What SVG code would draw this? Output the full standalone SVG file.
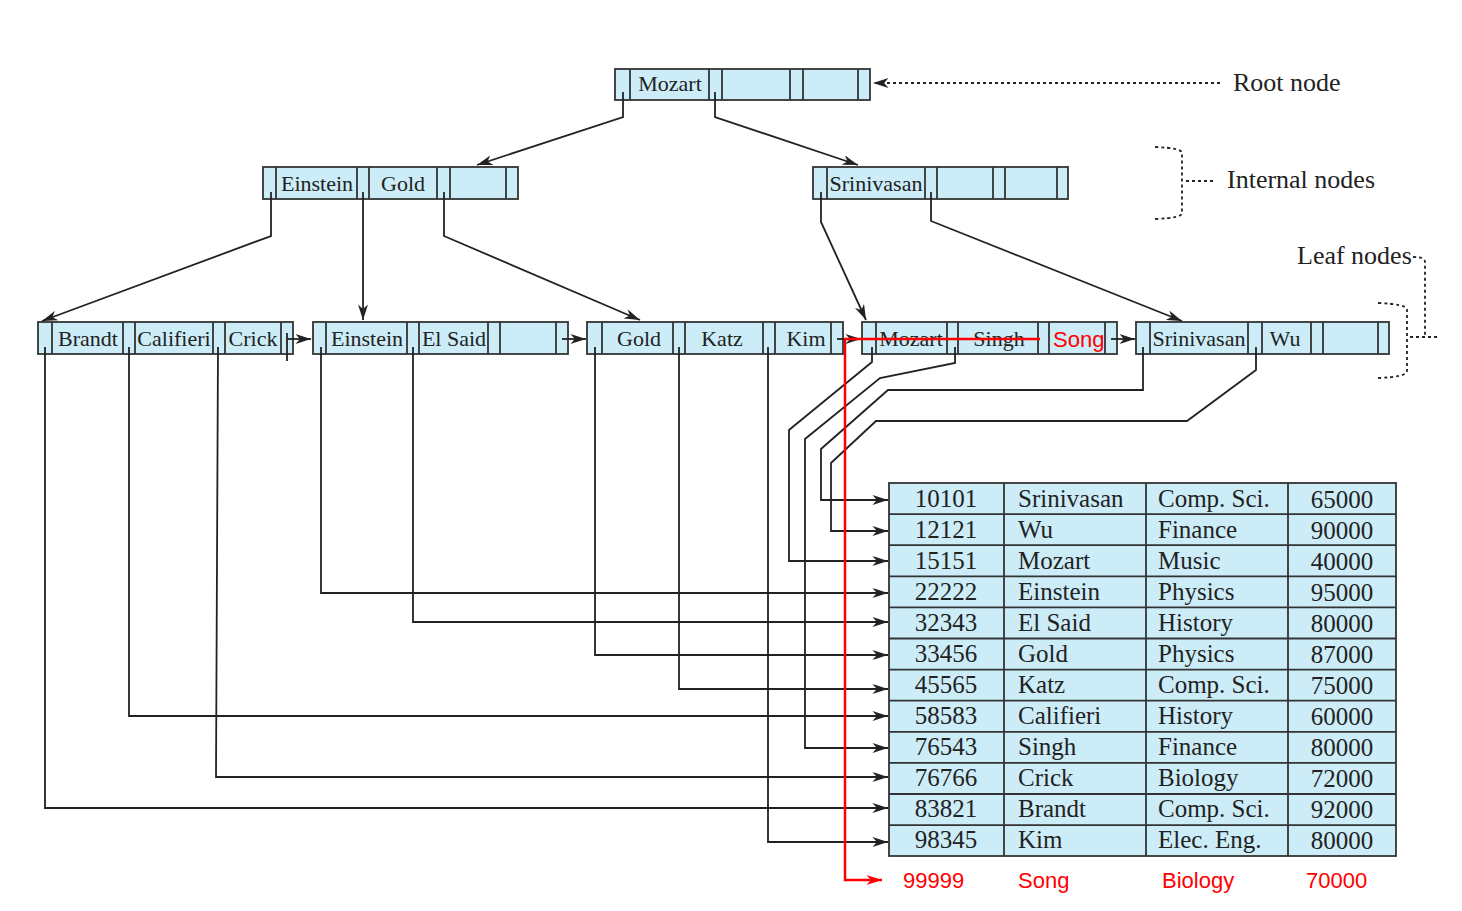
<svg xmlns="http://www.w3.org/2000/svg" width="1462" height="911" viewBox="0 0 1462 911">
<style>
.cell{fill:#ccedf8;stroke:#333;stroke-width:1.8}
.div{stroke:#333;stroke-width:1.8}
.k{font-family:"Liberation Serif",serif;font-size:22px;fill:#222;text-anchor:middle}
.t{font-family:"Liberation Serif",serif;font-size:25px;fill:#222}
.tc{text-anchor:middle}
.lbl{font-family:"Liberation Serif",serif;font-size:26px;fill:#222}
.red{font-family:"Liberation Sans","Noto Sans",sans-serif;font-size:22px;fill:#ff0000}
.ln{fill:none;stroke:#222;stroke-width:1.8}
.dot{fill:none;stroke:#222;stroke-width:1.8;stroke-dasharray:3,3}
.rl{fill:none;stroke:#ff0000;stroke-width:2.5}
</style>
<defs>
<marker id="ah" viewBox="0 0 14 9" refX="14" refY="4.5" markerWidth="16" markerHeight="10" markerUnits="userSpaceOnUse" orient="auto">
<path d="M0,0 L14,4.5 L0,9 L4,4.5 z" fill="#222"/>
</marker>
<marker id="ahr" viewBox="0 0 14 9" refX="14" refY="4.5" markerWidth="16" markerHeight="10" markerUnits="userSpaceOnUse" orient="auto">
<path d="M0,0 L14,4.5 L0,9 L4,4.5 z" fill="#ff0000"/>
</marker>
</defs>
<rect width="1462" height="911" fill="#fff"/>

<g id="root">
<rect class="cell" x="615" y="69" width="255" height="31"/>
<path class="div" d="M630,69V100M709,69V100M722,69V100M790,69V100M803,69V100M858,69V100"/>
<text class="k" x="670" y="91">Mozart</text>
</g>

<g id="internal1">
<rect class="cell" x="263" y="167" width="255" height="32"/>
<path class="div" d="M276,167V199M357,167V199M369,167V199M437,167V199M450,167V199M506,167V199"/>
<text class="k" x="317" y="191">Einstein</text>
<text class="k" x="403" y="191">Gold</text>
</g>

<g id="internal2">
<rect class="cell" x="813" y="167" width="255" height="32"/>
<path class="div" d="M827,167V199M925,167V199M937,167V199M993,167V199M1005,167V199M1057,167V199"/>
<text class="k" x="876" y="191">Srinivasan</text>
</g>

<g id="leaf1">
<rect class="cell" x="38" y="322" width="255" height="32"/>
<path class="div" d="M52,322V354M123,322V354M135,322V354M213,322V354M225,322V354M281,322V354"/>
<text class="k" x="88" y="346">Brandt</text>
<text class="k" x="174" y="346">Califieri</text>
<text class="k" x="253" y="346">Crick</text>
</g>

<g id="leaf2">
<rect class="cell" x="313" y="322" width="255" height="32"/>
<path class="div" d="M326,322V354M407,322V354M419,322V354M488,322V354M500,322V354M556,322V354"/>
<text class="k" x="367" y="346">Einstein</text>
<text class="k" x="454" y="346">El Said</text>
</g>

<g id="leaf3">
<rect class="cell" x="587" y="322" width="256" height="32"/>
<path class="div" d="M602,322V354M673,322V354M685,322V354M763,322V354M775,322V354M831,322V354"/>
<text class="k" x="639" y="346">Gold</text>
<text class="k" x="722" y="346">Katz</text>
<text class="k" x="806" y="346">Kim</text>
</g>

<g id="leaf4">
<rect class="cell" x="862" y="322" width="255" height="32"/>
<path class="div" d="M876,322V354M947,322V354M958,322V354M1038,322V354M1049,322V354M1105,322V354"/>
<text class="k" x="911" y="346">Mozart</text>
<text class="k" x="999" y="346">Singh</text>
<text class="red" x="1053" y="347">Song</text>
</g>

<g id="leaf5">
<rect class="cell" x="1136" y="322" width="253" height="32"/>
<path class="div" d="M1150,322V354M1248,322V354M1262,322V354M1311,322V354M1323,322V354M1378,322V354"/>
<text class="k" x="1199" y="346">Srinivasan</text>
<text class="k" x="1285" y="346">Wu</text>
</g>

<g id="table">
<rect class="cell" x="889" y="483" width="507" height="373" stroke-width="2.2"/>
<path class="div" d="M1004,483V856M1146,483V856M1288,483V856"/>
<path class="div" d="M889,514.1H1396M889,545.2H1396M889,576.3H1396M889,607.4H1396M889,638.5H1396M889,669.6H1396M889,700.7H1396M889,731.8H1396M889,762.9H1396M889,794H1396M889,825.1H1396"/>
<g class="t">
<text class="tc" x="946" y="507">10101</text><text x="1018" y="507">Srinivasan</text><text x="1158" y="507">Comp. Sci.</text><text class="tc" x="1342" y="508">65000</text>
<text class="tc" x="946" y="538">12121</text><text x="1018" y="538">Wu</text><text x="1158" y="538">Finance</text><text class="tc" x="1342" y="539">90000</text>
<text class="tc" x="946" y="569">15151</text><text x="1018" y="569">Mozart</text><text x="1158" y="569">Music</text><text class="tc" x="1342" y="570">40000</text>
<text class="tc" x="946" y="600">22222</text><text x="1018" y="600">Einstein</text><text x="1158" y="600">Physics</text><text class="tc" x="1342" y="601">95000</text>
<text class="tc" x="946" y="631">32343</text><text x="1018" y="631">El Said</text><text x="1158" y="631">History</text><text class="tc" x="1342" y="632">80000</text>
<text class="tc" x="946" y="662">33456</text><text x="1018" y="662">Gold</text><text x="1158" y="662">Physics</text><text class="tc" x="1342" y="663">87000</text>
<text class="tc" x="946" y="693">45565</text><text x="1018" y="693">Katz</text><text x="1158" y="693">Comp. Sci.</text><text class="tc" x="1342" y="694">75000</text>
<text class="tc" x="946" y="724">58583</text><text x="1018" y="724">Califieri</text><text x="1158" y="724">History</text><text class="tc" x="1342" y="725">60000</text>
<text class="tc" x="946" y="755">76543</text><text x="1018" y="755">Singh</text><text x="1158" y="755">Finance</text><text class="tc" x="1342" y="756">80000</text>
<text class="tc" x="946" y="786">76766</text><text x="1018" y="786">Crick</text><text x="1158" y="786">Biology</text><text class="tc" x="1342" y="787">72000</text>
<text class="tc" x="946" y="817">83821</text><text x="1018" y="817">Brandt</text><text x="1158" y="817">Comp. Sci.</text><text class="tc" x="1342" y="818">92000</text>
<text class="tc" x="946" y="848">98345</text><text x="1018" y="848">Kim</text><text x="1158" y="848">Elec. Eng.</text><text class="tc" x="1342" y="849">80000</text>
</g>
</g>

<g id="newrow">
<text class="red" x="903" y="888">99999</text>
<text class="red" x="1018" y="888">Song</text>
<text class="red" x="1162" y="888">Biology</text>
<text class="red" x="1306" y="888">70000</text>
</g>

<g id="labels">
<text class="lbl" x="1233" y="91">Root node</text>
<text class="lbl" x="1227" y="188">Internal nodes</text>
<text class="lbl" x="1297" y="264">Leaf nodes</text>
<path class="dot" d="M1155,147 Q1182,148 1182,153 V213 Q1182,218 1155,219"/>
<path class="dot" d="M1186,181 H1214"/>
<path class="dot" d="M1378,303 Q1407,304 1407,310 V371 Q1407,377 1378,378"/>
<path class="dot" d="M1410,337 H1438"/>
<path class="dot" d="M1413,257 Q1425,257 1425,262 V337"/>
</g>

<g id="connectors">
<path class="dot" d="M1220,83 H873" marker-end="url(#ah)"/>
<path class="ln" d="M623,92 V117 L477,165" marker-end="url(#ah)"/>
<path class="ln" d="M715,92 V117 L858,165" marker-end="url(#ah)"/>
<path class="ln" d="M271,192 V236 L42,321" marker-end="url(#ah)"/>
<path class="ln" d="M363,192 V320" marker-end="url(#ah)"/>
<path class="ln" d="M444,192 V236 L640,320" marker-end="url(#ah)"/>
<path class="ln" d="M821,192 V222 L866,320" marker-end="url(#ah)"/>
<path class="ln" d="M931,192 V221 L1182,321" marker-end="url(#ah)"/>
<path class="ln" d="M287,339 H311" marker-end="url(#ah)"/>
<path class="ln" d="M287,333 V361"/>
<path class="ln" d="M562,339 H586" marker-end="url(#ah)"/>
<path class="ln" d="M837,339 H861" marker-end="url(#ah)"/>
<path class="ln" d="M1111,339 H1135" marker-end="url(#ah)"/>
<path class="ln" d="M45,347 V808 H888" marker-end="url(#ah)"/>
<path class="ln" d="M129,347 V716 H888" marker-end="url(#ah)"/>
<path class="ln" d="M218,347 L216,777 H888" marker-end="url(#ah)"/>
<path class="ln" d="M321,347 V593 H888" marker-end="url(#ah)"/>
<path class="ln" d="M413,347 V622 H888" marker-end="url(#ah)"/>
<path class="ln" d="M595,347 V655 H888" marker-end="url(#ah)"/>
<path class="ln" d="M679,347 V689 H888" marker-end="url(#ah)"/>
<path class="ln" d="M768,347 V842 H888" marker-end="url(#ah)"/>
<path class="ln" d="M872,347 V362 L789,430 V561 H888" marker-end="url(#ah)"/>
<path class="ln" d="M955,347 V363 L880,378 L805,439 V748 H888" marker-end="url(#ah)"/>
<path class="ln" d="M1143,347 V390 H888 L821,449 V500 H888" marker-end="url(#ah)"/>
<path class="ln" d="M1256,347 V370 L1187,421 H876 L831,463 V531 H888" marker-end="url(#ah)"/>
<path class="rl" d="M1040,339 H845 V880 H882" marker-end="url(#ahr)"/>
</g>
</svg>
